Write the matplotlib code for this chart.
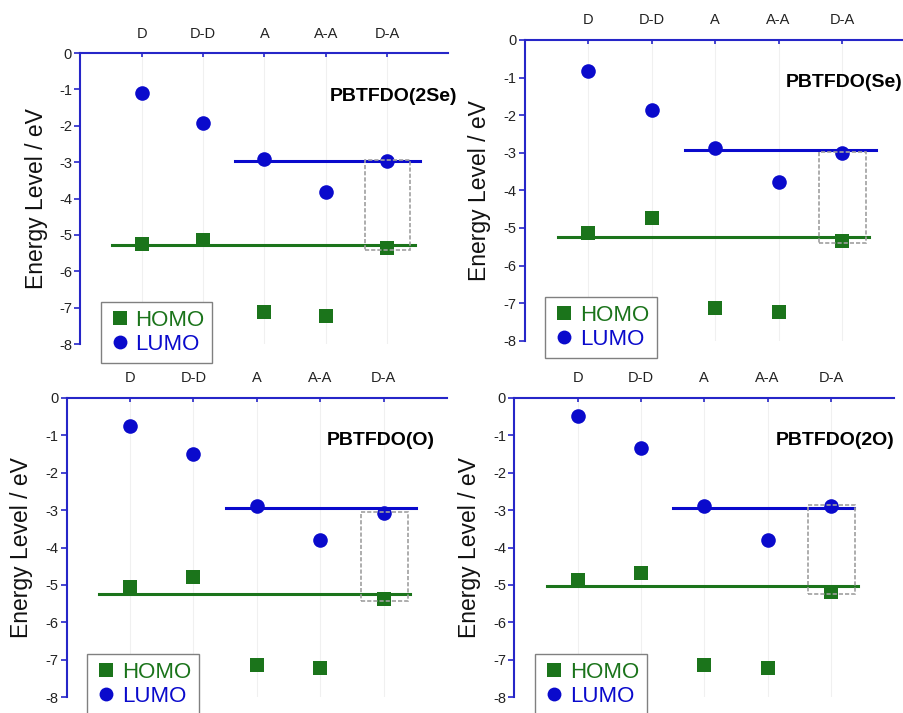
import matplotlib
matplotlib.use("Agg")
import matplotlib.pyplot as plt
from matplotlib.patches import Rectangle

plt.rcParams["font.family"] = ["Liberation Sans", "DejaVu Sans"]

# Data (eV)
categories = ["D", "D-D", "A", "A-A", "D-A"]
titles = ["PBTFDO(2Se)", "PBTFDO(Se)", "PBTFDO(O)", "PBTFDO(2O)"]

homo_2se = [-5.25, -5.14, -7.13, -7.23, -5.37]
lumo_2se = [-1.10, -1.93, -2.92, -3.82, -2.97]
homo_se = [-5.14, -4.74, -7.14, -7.23, -5.34]
lumo_se = [-0.82, -1.86, -2.88, -3.79, -3.01]
homo_o = [-5.06, -4.80, -7.14, -7.23, -5.38]
lumo_o = [-0.76, -1.49, -2.89, -3.80, -3.07]
homo_2o = [-4.87, -4.69, -7.14, -7.23, -5.18]
lumo_2o = [-0.49, -1.33, -2.89, -3.80, -2.89]

# reference levels drawn as horizontal lines
lumo_level = [-2.98, -2.94, -2.95, -2.95]
homo_level = [-5.27, -5.24, -5.25, -5.04]

yticks = [0, -1, -2, -3, -4, -5, -6, -7, -8]
ytick_labels = ["0", "-1", "-2", "-3", "-4", "-5", "-6", "-7", "-8"]

homos = [homo_2se, homo_se, homo_o, homo_2o]
lumos = [lumo_2se, lumo_se, lumo_o, lumo_2o]

# layout: axes rects [left, bottom, width, height] in figure fraction
rects = [
    [0.0890, 0.5175, 0.4070, 0.4080],
    [0.5802, 0.5222, 0.4215, 0.4217],
    [0.0736, 0.0220, 0.4209, 0.4202],
    [0.5690, 0.0220, 0.4202, 0.4202],
]
title_pos = [(1.025, -1.2), (0.993, -1.13), (0.968, -1.15), (1.0, -1.15)]
lumo_span = [(2.52, 5.54), (2.53, 5.53), (2.52, 5.51), (2.51, 5.37)]
homo_span = [(0.51, 5.45), (0.52, 5.43), (0.51, 5.41), (0.51, 5.42)]

blue = "#0a0acc"
green = "#1b741b"
axis_blue = "#2626c8"

fig = plt.figure(figsize=(9.04, 7.13), dpi=100)

for i in range(4):
    ax = fig.add_axes(rects[i])
    x = list(range(1, len(categories) + 1))

    # faint vertical guides
    for xi in x:
        ax.axvline(xi, color="#f0f0f0", lw=0.8, zorder=0)

    ax.plot(lumo_span[i], [lumo_level[i]] * 2, color=blue, lw=2.2, zorder=2)
    ax.plot(homo_span[i], [homo_level[i]] * 2, color=green, lw=2.2, zorder=2)

    ax.plot(x, homos[i], "s", color=green, ms=10, mew=0, label="HOMO", zorder=3)
    ax.plot(x, lumos[i], "o", color=blue, ms=10.5, mew=0, label="LUMO", zorder=3)

    # dashed box around the D-A gap
    y0 = homos[i][-1] - 0.05
    y1 = lumos[i][-1] + 0.03
    ax.add_patch(Rectangle((4.64, y0), 0.74, y1 - y0, fill=False,
                           ec="#a0a0a0", lw=1.2, ls=(0, (2.5, 1.2)), zorder=4))

    ax.set_xlim(0, 6)
    ax.set_ylim(-8, 0)
    ax.set_xticks(x)
    ax.set_xticklabels(categories)
    ax.set_yticks(yticks)
    ax.set_yticklabels(ytick_labels)
    ax.xaxis.tick_top()
    ax.tick_params(axis="x", direction="in", length=3, width=1.2,
                   color=axis_blue, labelsize=10.5, labelcolor="#222222", pad=9)
    ax.tick_params(axis="y", direction="out", length=4, width=1.2,
                   color=axis_blue, labelsize=10.5, labelcolor="#222222", pad=2)

    for side in ["right", "bottom"]:
        ax.spines[side].set_visible(False)
    for side in ["top", "left"]:
        ax.spines[side].set_color(axis_blue)
        ax.spines[side].set_linewidth(1.5)

    ax.set_ylabel("Energy Level / eV", fontsize=16.5, color="#111111")
    ax.yaxis.set_label_coords(-0.088, 0.5)

    tx, ty = title_pos[i]
    ax.text(tx, ty, titles[i], transform=ax.get_yaxis_transform(),
            ha="right", va="center", fontsize=14, fontweight="bold")

    leg = ax.legend(loc="upper left", bbox_to_anchor=(0.055, 0.145),
                    borderaxespad=0, fontsize=16, frameon=True, fancybox=False,
                    framealpha=1, edgecolor="#808080", borderpad=0.35,
                    handlelength=1.0, handletextpad=0.2, labelspacing=0.15,
                    markerscale=0.95)
    leg.get_frame().set_linewidth(1.0)
    for t, c in zip(leg.get_texts(), [green, blue]):
        t.set_color(c)

fig.savefig("out.png", dpi=100)
